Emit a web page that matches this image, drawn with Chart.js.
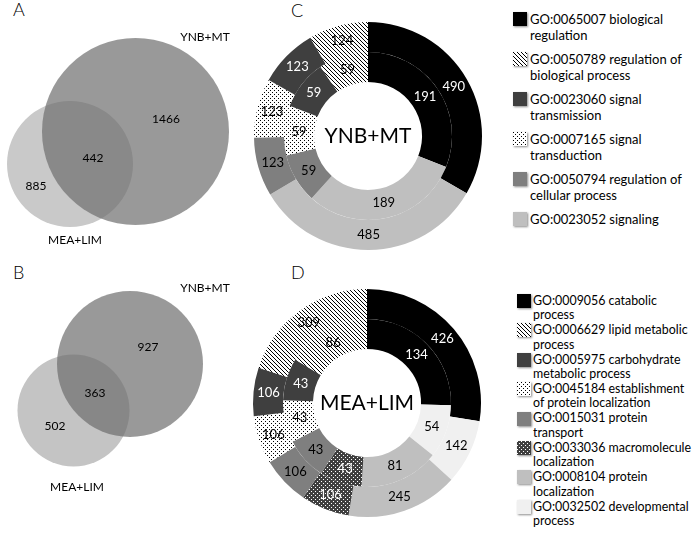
<!DOCTYPE html>
<html>
<head>
<meta charset="utf-8">
<script src="https://cdn.jsdelivr.net/npm/chart.js@4.4.0/dist/chart.umd.min.js"></script>
<style>
body { margin: 0; width: 696px; height: 535px; position: relative; background: #fff; overflow: hidden;
       font-family: Lato, "Open Sans", sans-serif; color: #000; }
canvas { position: absolute; }
.panel { position: absolute; font-size: 18px; line-height: 18px; font-weight: 300; }
.leg { position: absolute; font-size: 13px; white-space: pre; }
.sw { position: absolute; width: 14px; height: 14px; box-shadow: 1px 1px 2px rgba(0,0,0,0.45); }
</style>
</head>
<body>
<div class="panel" style="left:13px;top:0px">A</div>
<div class="panel" style="left:13px;top:263px">B</div>
<div class="panel" style="left:291px;top:1px">C</div>
<div class="panel" style="left:291px;top:263px">D</div>
<canvas id="vennA" width="270" height="260" style="left:0;top:0"></canvas>
<canvas id="vennB" width="270" height="275" style="left:0;top:260px"></canvas>
<canvas id="donutC" width="240" height="240" style="left:248px;top:16px"></canvas>
<canvas id="donutD" width="240" height="240" style="left:247px;top:283px"></canvas>
<div id="legends"></div>
<script>
// Venn counts: [MEA+LIM only, shared, YNB+MT only]
var vennSets = ["MEA+LIM", "YNB+MT"];
var vennA = [885, 442, 1466];
var vennB = [502, 363, 927];

// GO terms, in clockwise ring order
var catsC = [
    ["GO:0065007 biological", "regulation"],
    ["GO:0023052 signaling"],
    ["GO:0050794 regulation of", "cellular process"],
    ["GO:0007165 signal", "transduction"],
    ["GO:0023060 signal", "transmission"],
    ["GO:0050789 regulation of", "biological process"],
];
var outerC = [490, 485, 123, 123, 123, 124];
var innerC = [191, 189, 59, 59, 59, 59];
// legend order (top to bottom) as index into catsC
var legendC = [0, 5, 4, 3, 2, 1];

var catsD = [
    ["GO:0009056 catabolic", "process"],
    ["GO:0032502 developmental", "process"],
    ["GO:0008104 protein", "localization"],
    ["GO:0033036 macromolecule", "localization"],
    ["GO:0015031 protein", "transport"],
    ["GO:0045184 establishment", "of protein localization"],
    ["GO:0005975 carbohydrate", "metabolic process"],
    ["GO:0006629 lipid metabolic", "process"],
];
var outerD = [426, 142, 245, 106, 106, 106, 106, 309];
var innerD = [134, 54, 81, 43, 43, 43, 43, 86];
var legendD = [0, 7, 6, 5, 4, 3, 2, 1];

var FONT = 'Lato, "Open Sans", sans-serif';

function tile(bg, fg, kind) {
    var c = document.createElement('canvas');
    c.width = 4; c.height = 4;
    var g = c.getContext('2d');
    g.fillStyle = bg; g.fillRect(0, 0, 4, 4);
    g.fillStyle = fg; g.strokeStyle = fg;
    if (kind == 'hatch') {
        g.lineWidth = 1.0;
        [[-1, -1, 5, 5], [3, -1, 5, 1], [-1, 3, 1, 5]].forEach(function (l) {
            g.beginPath(); g.moveTo(l[0], l[1]); g.lineTo(l[2], l[3]); g.stroke();
        });
    } else {
        g.fillRect(0, 0, 1, 1); g.fillRect(2, 2, 1, 1);
    }
    return c;
}
var tiles = {
    hatch: tile('#fff', '#000', 'hatch'),
    dots: tile('#fff', '#000', 'dots'),
    darkdots: tile('#3f3f3f', '#fff', 'dots'),
};
var solid = { black: '#000', dark: '#3f3f3f', gray: '#7f7f7f', light: '#bfbfbf', white: '#f0f0f0' };
var pctx = document.createElement('canvas').getContext('2d');
function fillOf(k) { return tiles[k] ? pctx.createPattern(tiles[k], 'repeat') : solid[k]; }
function cssOf(k) { return tiles[k] ? 'url(' + tiles[k].toDataURL() + ')' : solid[k]; }

var fillsC = ['black', 'light', 'gray', 'dots', 'dark', 'hatch'];
var textC = ['#fff', '#000', '#000', '#000', '#fff', '#000'];
var fillsD = ['black', 'white', 'light', 'darkdots', 'gray', 'dots', 'dark', 'hatch'];
var textD = ['#fff', '#000', '#000', '#fff', '#000', '#000', '#fff', '#000'];

var arcText = {
    id: 'arcText',
    afterDatasetsDraw: function (chart, args, opts) {
        var ctx = chart.ctx;
        ctx.save();
        ctx.textAlign = 'center';
        ctx.textBaseline = 'middle';
        ctx.font = '13px ' + FONT;
        chart.data.datasets.forEach(function (ds, i) {
            chart.getDatasetMeta(i).data.forEach(function (arc, j) {
                var p = arc.tooltipPosition();
                ctx.fillStyle = opts.colors[j];
                ctx.fillText(ds.data[j], p.x, p.y);
            });
        });
        var a = chart.chartArea;
        ctx.font = '21px ' + FONT;
        ctx.fillStyle = '#000';
        ctx.fillText(opts.center, (a.left + a.right) / 2, (a.top + a.bottom) / 2);
        ctx.restore();
    }
};

function donut(id, labels, outer, inner, fills, colors, center) {
    var bg = fills.map(fillOf);
    new Chart(document.getElementById(id), {
        type: 'doughnut',
        data: {
            labels: labels,
            datasets: [
                { data: outer, backgroundColor: bg, borderWidth: 0 },
                { data: inner, backgroundColor: bg, borderWidth: 0 }
            ]
        },
        options: {
            responsive: false, animation: false, events: [],
            radius: 114, cutout: '47.4%',
            layout: { padding: 0 },
            plugins: { legend: { display: false }, tooltip: { enabled: false },
                       arcText: { colors: colors, center: center } }
        },
        plugins: [arcText]
    });
}

var vennText = {
    id: 'vennText',
    afterDatasetsDraw: function (chart, args, opts) {
        var ctx = chart.ctx, sx = chart.scales.x, sy = chart.scales.y;
        ctx.save();
        ctx.textAlign = 'center';
        ctx.textBaseline = 'middle';
        ctx.font = '12px ' + FONT;
        ctx.fillStyle = '#000';
        var texts = opts.counts.concat(vennSets);
        opts.spots.forEach(function (s, i) {
            ctx.fillText(texts[i], sx.getPixelForValue(s[0]), sy.getPixelForValue(s[1]));
        });
        ctx.restore();
    }
};

function venn(id, counts, g, h) {
    new Chart(document.getElementById(id), {
        type: 'bubble',
        data: {
            datasets: [
                { data: [g.big], backgroundColor: 'rgba(110,110,110,0.7)', borderWidth: 0, clip: false },
                { data: [g.small], backgroundColor: g.smallColor, borderWidth: 0, clip: false }
            ]
        },
        options: {
            responsive: false, animation: false, events: [],
            layout: { padding: 0, autoPadding: false },
            scales: {
                x: { type: 'linear', display: false, min: 0, max: 270 },
                y: { type: 'linear', display: false, min: 0, max: h, reverse: true }
            },
            plugins: { legend: { display: false }, tooltip: { enabled: false },
                       vennText: { counts: counts, spots: g.spots } }
        },
        plugins: [vennText]
    });
}

// spots: [MEA only, shared, YNB only, MEA label, YNB label]
venn('vennA', vennA, {
    big: { x: 135.5, y: 131.5, r: 93.5 },
    small: { x: 70, y: 164, r: 63 }, smallColor: '#c9c9c9',
    spots: [[36, 186], [93, 158], [166, 119], [75, 240], [205, 37]]
}, 260);
venn('vennB', vennB, {
    big: { x: 130, y: 104, r: 73 },
    small: { x: 73.5, y: 150.5, r: 56 }, smallColor: '#c4c4c4',
    spots: [[55, 166], [95, 133], [148, 87], [77, 227], [205, 28]]
}, 275);

donut('donutC', catsC, outerC, innerC, fillsC, textC, 'YNB+MT');
donut('donutD', catsD, outerD, innerD, fillsD, textD, 'MEA+LIM');

function legend(cats, order, fills, swX, txX, y0, step, lh, fs) {
    var box = document.getElementById('legends');
    order.forEach(function (k, i) {
        var cy = y0 + step * i;
        var sw = document.createElement('div');
        sw.className = 'sw';
        sw.style.left = swX + 'px';
        sw.style.top = (cy - 7) + 'px';
        sw.style.background = cssOf(fills[k]);
        box.appendChild(sw);
        var t = document.createElement('div');
        t.className = 'leg';
        t.style.left = txX + 'px';
        t.style.top = (cy - lh / 2) + 'px';
        t.style.lineHeight = lh + 'px';
        t.style.fontSize = fs + 'px';
        t.textContent = cats[k].join('\n');
        box.appendChild(t);
    });
}
legend(catsC, legendC, fillsC, 513, 530, 19, 40, 16, 13);
legend(catsD, legendD, fillsD, 517, 533, 301, 29.4, 14.6, 12.4);
</script>
</body>
</html>
